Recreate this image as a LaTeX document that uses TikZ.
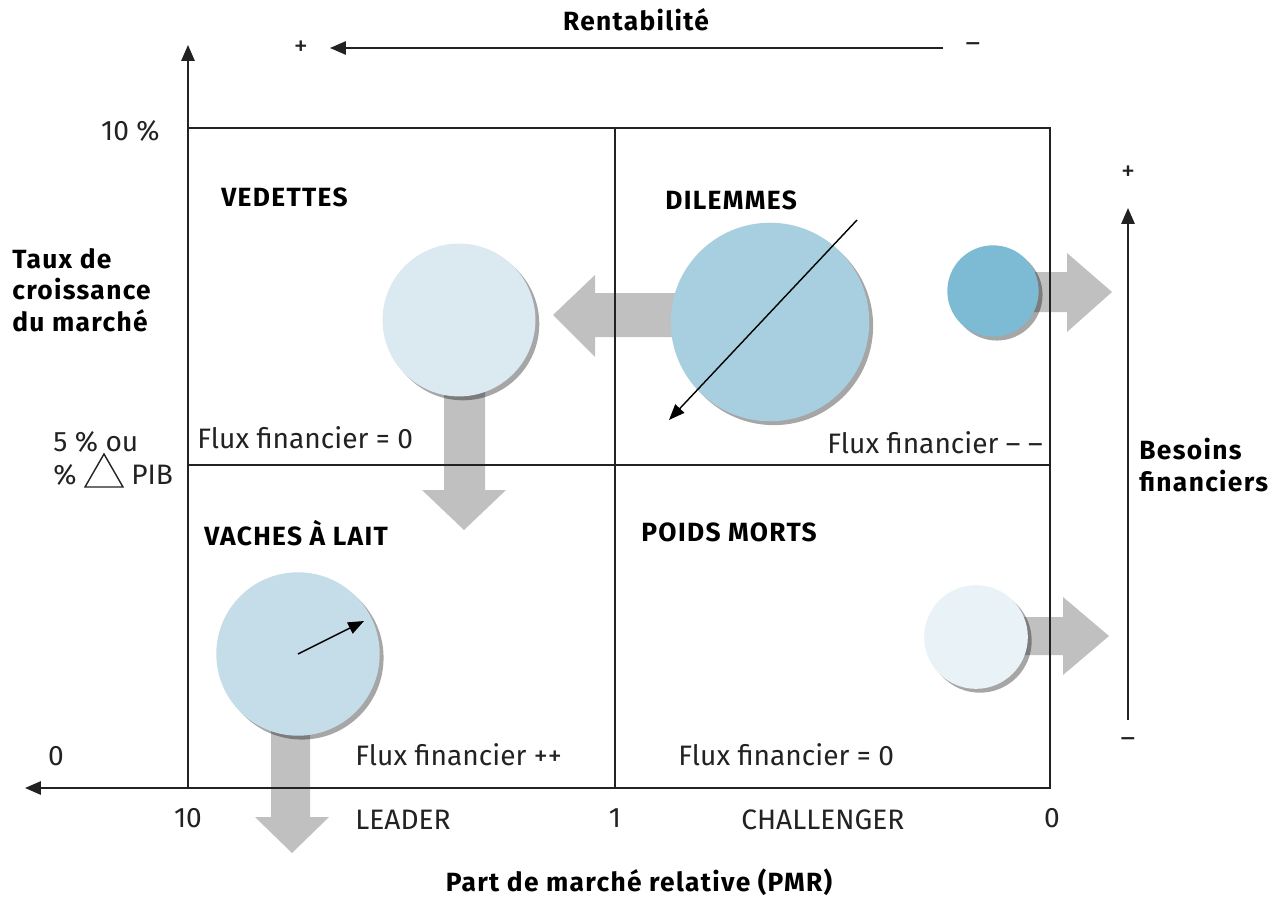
\documentclass[tikz,border=0pt]{standalone}
\usepackage{fontspec}
\setmainfont{Fira Sans}
\newfontfamily\labfont{Fira Sans}[LetterSpace=5]
\usetikzlibrary{arrows.meta,shadows}
\definecolor{gridc}{HTML}{222222}
\definecolor{arrowgray}{HTML}{C0C0C0}
\definecolor{cved}{HTML}{DBE9F1}
\definecolor{cdil}{HTML}{A8CFDF}
\definecolor{cdils}{HTML}{7CBBD3}
\definecolor{cvac}{HTML}{C4DDE8}
\definecolor{cpoi}{HTML}{E9F2F6}
\begin{document}
\begin{tikzpicture}[x=0.02cm,y=-0.02cm,
  axisline/.style={draw=gridc, line width=1.1pt},
  axtip/.style={-{Triangle[length=9pt,width=7.5pt]}},
  gridline/.style={draw=gridc, line width=0.9pt},
  fatgray/.style={fill=arrowgray, draw=none},
  bubble/.style={circle, inner sep=0pt, draw=none,
    drop shadow={shadow xshift=2.2pt, shadow yshift=-2.2pt, opacity=0.35, fill=black}},
  thinarrow/.style={draw=black, line width=0.8pt, -{Triangle[length=9pt,width=7pt]}},
  reg/.style={font=\fontsize{16}{19}\selectfont, inner sep=0pt, text=gridc},
  lab/.style={font=\labfont\bfseries\fontsize{15}{18}\selectfont, inner sep=0pt, text=black},
]
\useasboundingbox[fill=white] (0,0) rectangle (1281,906);

% coordinates
\coordinate (O) at (188,788);
\coordinate (ytip) at (188,45);
\coordinate (xtip) at (25,788);
\coordinate (xend) at (1050,788);
\coordinate (TL) at (188,128);
\coordinate (MT) at (615,128);
\coordinate (MB) at (615,788);
\coordinate (ML) at (188,465);
\coordinate (MR) at (1050,465);
\coordinate (rS) at (943,48);
\coordinate (rE) at (330,48);
\coordinate (bS) at (1128,720);
\coordinate (bE) at (1128,208);

% gray flow arrows
\fill[fatgray] (700,293) -- (595,293) -- (595,275) -- (553,315) -- (595,357) -- (595,337) -- (700,337) -- cycle;
\fill[fatgray] (444,330) -- (444,490) -- (422,490) -- (464,530) -- (506,490) -- (485,490) -- (485,330) -- cycle;
\fill[fatgray] (271,660) -- (271,817) -- (255,817) -- (292,853) -- (329,817) -- (310,817) -- (310,660) -- cycle;
\fill[fatgray] (990,272) -- (1067,272) -- (1067,253) -- (1112,292) -- (1067,332) -- (1067,312) -- (990,312) -- cycle;
\fill[fatgray] (976,617) -- (1063,617) -- (1063,597) -- (1109,636) -- (1063,675) -- (1063,655) -- (976,655) -- cycle;

% grid and axes
\draw[gridline] (TL) rectangle (xend);
\draw[gridline] (MT) -- (MB);
\draw[gridline] (ML) -- (MR);
\draw[axisline,axtip] (O) -- (ytip);
\draw[axisline,axtip] (xend) -- (xtip);
\draw[axisline,axtip] (rS) -- (rE);
\draw[axisline,axtip] (bS) -- (bE);

% bubbles
\node[bubble, fill=cved, minimum size=87pt] (ved) at (459,320) {};
\node[bubble, fill=cdil, minimum size=113pt] (dil) at (770,322) {};
\node[bubble, fill=cdils, minimum size=52pt] (dils) at (993,291) {};
\node[bubble, fill=cvac, minimum size=93pt] (vac) at (298,654) {};
\node[bubble, fill=cpoi, minimum size=59pt] (poi) at (976,637) {};

% black arrows
\coordinate (dA) at (857,220);
\coordinate (dB) at (669,420);
\draw[thinarrow] (dA) -- (dB);
\coordinate (vB) at (364,621);
\draw[thinarrow] (vac.center) -- (vB);

% top / right axis labels
\node[lab] (rent) at (636,20) {Rentabilité};
\node[reg] (rplus) at (301,48) {+};
\node[reg] (rminus) at (973,48) {–};
\node[reg] (bplus) at (1128,173) {+};
\node[reg] (bminus) at (1128,743) {–};
\node[lab, anchor=west, align=left] (besoins) at (1139,465) {Besoins\\financiers};

% left axis labels
\node[reg, anchor=east] (t10) at (160,131) {10 \%};
\node[lab, anchor=west, align=left, font=\labfont\bfseries\fontsize{15}{18}\selectfont] (taux) at (12,290) {Taux de\\croissance\\du marché};
\node[reg, anchor=west] (t5) at (53,442) {5 \% ou};
\node[reg, anchor=west] (tpc) at (53,475) {\%};
\draw[draw=gridc, line width=0.8pt, line join=miter] (85,487) -- (123,487) -- (104,454) -- cycle;
\node[reg, anchor=west] (tpib) at (131,475) {PIB};
\node[reg] (t0) at (56,756) {0};

% bottom axis labels
\node[reg] (b10) at (188,818) {10};
\node[reg, anchor=west] (leader) at (355,820) {LEADER};
\node[reg] (b1) at (615,818) {1};
\node[reg, anchor=west] (chal) at (741,820) {CHALLENGER};
\node[reg] (b0) at (1052,818) {0};
\node[lab] (pmr) at (639,882) {Part de marché relative (PMR)};

% quadrant titles
\node[lab, anchor=west] (qved) at (221,197) {VEDETTES};
\node[lab, anchor=west] (qdil) at (665,200) {DILEMMES};
\node[lab, anchor=west] (qvac) at (204,533) {VACHES À LAIT};
\node[lab, anchor=west] (qpoi) at (641,532) {POIDS MORTS};

% flux labels
\node[reg, anchor=west] (f1) at (197,438) {Flux financier = 0};
\node[reg, anchor=east] (f2) at (1043,443) {Flux financier – –};
\node[reg, anchor=west] (f3) at (355,755) {Flux financier ++};
\node[reg, anchor=west] (f4) at (678,755) {Flux financier = 0};
\end{tikzpicture}
\end{document}
